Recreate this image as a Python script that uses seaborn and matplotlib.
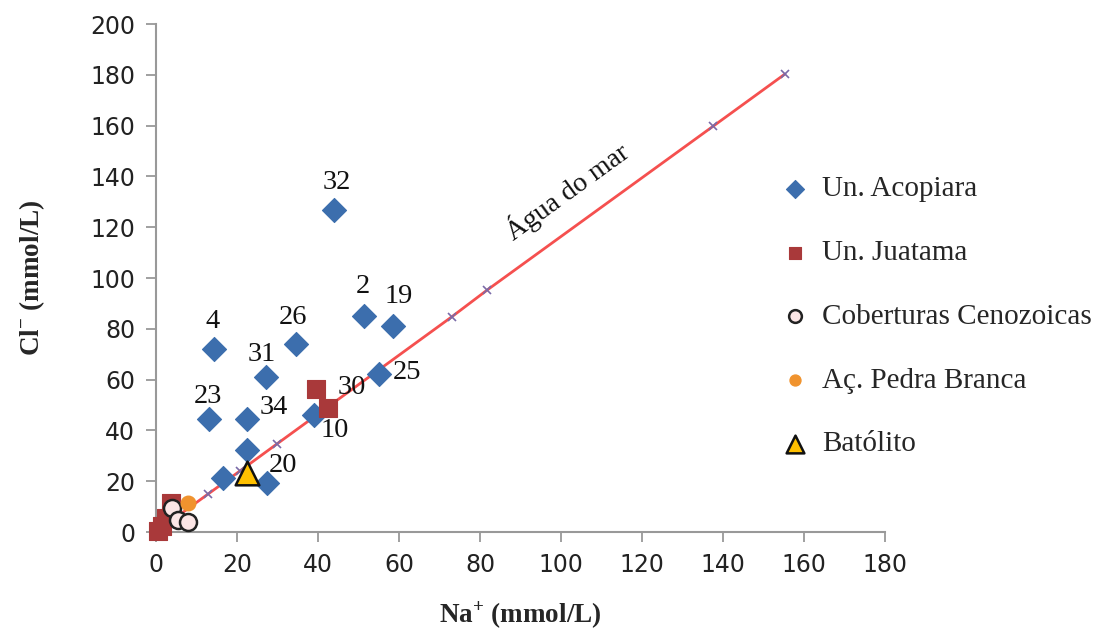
import matplotlib
matplotlib.use("Agg")
import matplotlib.pyplot as plt
import seaborn as sns
import pandas as pd

# --- Na+ and Cl- concentrations (mmol/L) per group ---
acop_na = [43.9, 51.4, 58.5, 14.3, 34.6, 27.2, 55.1, 13.1, 22.5, 38.9, 22.5, 16.6, 27.3]
acop_cl = [126.8, 85.0, 81.1, 72.0, 74.0, 61.0, 62.2, 44.5, 44.5, 46.1, 32.3, 21.1, 19.2]
acop_id = ["32", "2", "19", "4", "26", "31", "25", "23", "34", "10", "", "", "20"]

juat_na = [39.4, 42.4, 3.7, 2.5, 1.5, 0.5]
juat_cl = [56.2, 48.7, 11.4, 5.5, 2.5, 0.5]
juat_id = ["", "30", "", "", "", ""]

cob_na = [4.0, 5.5, 7.8]
cob_cl = [9.3, 4.7, 4.1]

pedra_na = [8.0]
pedra_cl = [11.6]

bat_na = [22.4]
bat_cl = [23.1]

# seawater dilution line
sw_na = [0.5, 12.9, 20.7, 29.8, 73.1, 81.8, 137.6, 155.3]
sw_cl = [0.6, 15.0, 24.0, 34.6, 84.8, 95.3, 159.8, 180.3]

x_ticks = list(range(0, 181, 20))
y_ticks = list(range(0, 201, 20))

# label offsets (points) for sample IDs
acop_off = [(2, 20), (-1, 21), (4, 21), (-1, 20), (-2, 19), (-3, 16), (20, 1),
            (-1, 16), (19, 8), (15, -11), (0, 0), (0, 0), (12, 13)]
juat_off = [(0, 0), (17, 15), (0, 0), (0, 0), (0, 0), (0, 0)]

sns.set_theme(style="white")
plt.rcParams["font.family"] = ["DejaVu Sans"]
plt.rcParams["mathtext.fontset"] = "custom"
plt.rcParams["mathtext.rm"] = "Liberation Serif"
plt.rcParams["mathtext.bf"] = "Liberation Serif:bold"

fig = plt.figure(figsize=(11.08, 6.33), dpi=100)
ax = fig.add_axes([156 / 1108, 101 / 633, 729 / 1108, 508 / 633])

serif = "Liberation Serif"

# seawater line
sns.lineplot(x=sw_na, y=sw_cl, ax=ax, color="#F5504F", lw=2.0, marker="x",
             markersize=6, markeredgecolor="#7A6BA8", markeredgewidth=1.2,
             sort=False, estimator=None, legend=False, zorder=2)

groups = [
    ("Un. Acopiara", acop_na, acop_cl, "D", "#3C6EAD", "#3C6EAD", 150, 0.8),
    ("Un. Juatama", juat_na, juat_cl, "s", "#A9393A", "#A9393A", 150, 0.8),
    ("Coberturas Cenozoicas", cob_na, cob_cl, "o", "#FCE6E6", "#222222", 150, 1.8),
    ("Aç. Pedra Branca", pedra_na, pedra_cl, "o", "#F0932E", "#F0932E", 110, 1.0),
    ("Batólito", bat_na, bat_cl, "^", "#FFC000", "#111111", 290, 1.8),
]
for name, xs, ys, mk, fc, ec, s, lw in groups:
    df = pd.DataFrame({"Na": xs, "Cl": ys})
    sns.scatterplot(data=df, x="Na", y="Cl", ax=ax, marker=mk, color=fc,
                    edgecolor=ec, linewidth=lw, s=s, label=name, zorder=3,
                    clip_on=False)

# sample IDs
for xs, ys, ids, offs in [(acop_na, acop_cl, acop_id, acop_off),
                          (juat_na, juat_cl, juat_id, juat_off)]:
    for x, y, t, o in zip(xs, ys, ids, offs):
        if t:
            ax.annotate(t, (x, y), xytext=o, textcoords="offset points",
                        ha="center", va="center", fontsize=20.5,
                        family=serif, color="#111111")

ax.text(101.5, 134, "Água do mar", rotation=36, rotation_mode="anchor",
        ha="center", va="center", fontsize=20, family=serif, color="#111111")

ax.set_xlim(0, 180)
ax.set_ylim(0, 200)
ax.set_xticks(x_ticks)
ax.set_yticks(y_ticks)
ax.tick_params(axis="both", direction="out", length=7, width=1.3,
               color="#999999", labelsize=17, labelcolor="#222222", pad=8,
               bottom=True, left=True)
for side in ["top", "right"]:
    ax.spines[side].set_visible(False)
for side in ["left", "bottom"]:
    ax.spines[side].set_color("#999999")
    ax.spines[side].set_linewidth(1.5)

ax.set_xlabel(r"Na$^{\mathbf{+}}$ (mmol/L)", fontsize=19.5, family=serif,
              fontweight="bold", labelpad=16)
ax.set_ylabel(r"Cl$^{\mathbf{-}}$ (mmol/L)", fontsize=19.5, family=serif,
              fontweight="bold", labelpad=31)

ax.legend(loc="upper left", bbox_to_anchor=(780 / 1108, 1 - 176 / 633),
          bbox_transform=fig.transFigure, frameon=False, prop={"family": serif, "size": 21},
          markerscale=0.75, handlelength=1.0, handletextpad=0.45,
          labelspacing=1.28, borderpad=0, borderaxespad=0)

fig.savefig("out.png", dpi=100)
